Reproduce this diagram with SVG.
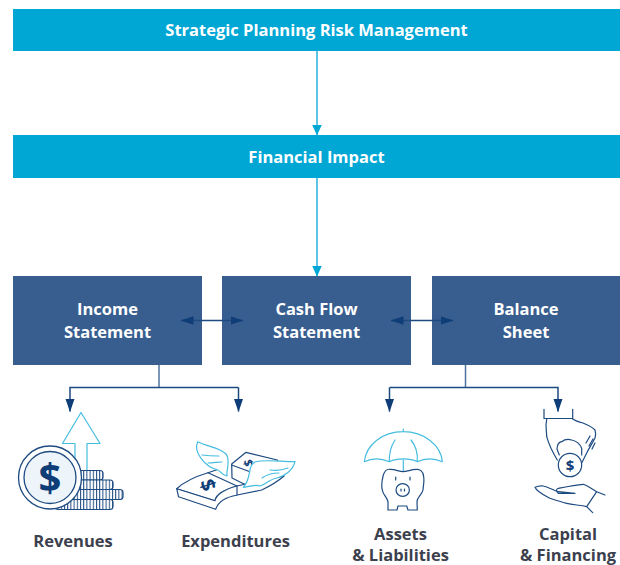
<svg xmlns="http://www.w3.org/2000/svg" width="620" height="565" viewBox="0 0 620 565">
<style>
text{font-family:"Open Sans","Liberation Sans",sans-serif;font-weight:700;text-anchor:middle}
.t{fill:#fff;font-size:16.500px}
.l{fill:#3c3f4d;font-size:16.500px}
.cy{fill:#00a7d5}.nv{fill:#385e8f}
.c1{fill:none;stroke:#5cc4e4;stroke-width:2}
.c2{fill:none;stroke:#1d4a80;stroke-width:1.500}
.d{fill:none;stroke:#1d4a80;stroke-width:1.200;stroke-linejoin:round;stroke-linecap:round}
.b{fill:none;stroke:#45bde0;stroke-width:1.200;stroke-linejoin:round;stroke-linecap:round}
.w{fill:#fff}
</style>
<defs>
<marker id="ac" markerUnits="userSpaceOnUse" markerWidth="11" markerHeight="11" refX="10.500" refY="5" orient="auto"><path d="M0 0L11 5L0 10Z" fill="#00a7d5"/></marker>
<marker id="an" markerUnits="userSpaceOnUse" markerWidth="13" markerHeight="9" refX="12.500" refY="4.250" orient="auto-start-reverse"><path d="M0 0L13 4.250L0 8.500Z" fill="#0f3d78"/></marker>
<marker id="ad" markerUnits="userSpaceOnUse" markerWidth="13" markerHeight="10" refX="12.500" refY="4.500" orient="auto"><path d="M0 0L13 4.500L0 9Z" fill="#0f3d78"/></marker>
<pattern id="ribs" width="3.200" height="10" patternUnits="userSpaceOnUse"><rect width="3.200" height="10" fill="#fff"/><rect width="1" height="10" fill="#1d4a80"/></pattern>
</defs>
<g id="strategic"><rect class="cy" x="13" y="9" width="607" height="42"/><text class="t" x="316.500" y="36">Strategic Planning Risk Management</text></g>
<g id="impact"><rect class="cy" x="13" y="135" width="607" height="43"/><text class="t" x="316.500" y="163">Financial Impact</text></g>
<g id="income"><rect class="nv" x="13" y="276" width="189" height="89"/><text class="t" x="107.500" y="315">Income</text><text class="t" x="107.500" y="338">Statement</text></g>
<g id="cashflow"><rect class="nv" x="222" y="276" width="189" height="89"/><text class="t" x="316.500" y="315">Cash Flow</text><text class="t" x="316.500" y="338">Statement</text></g>
<g id="balance"><rect class="nv" x="432" y="276" width="188" height="89"/><text class="t" x="526" y="315">Balance</text><text class="t" x="526" y="338">Sheet</text></g>
<g id="connectors">
<path class="c1" d="M317 51V135" marker-end="url(#ac)"/>
<path class="c1" d="M317 178V276" marker-end="url(#ac)"/>
<path class="c2" d="M181 320.500H243" marker-start="url(#an)" marker-end="url(#an)"/>
<path class="c2" d="M391 320.500H453" marker-start="url(#an)" marker-end="url(#an)"/>
<path d="M159 365V387M465.500 365V387" fill="none" stroke="#4f739e" stroke-width="1.500"/>
<path class="c2" d="M238.500 387.500H70V411.500" marker-end="url(#ad)"/>
<path class="c2" d="M238.500 387.500V411.500" marker-end="url(#ad)"/>
<path class="c2" d="M389.500 387.500H558V411.500" marker-end="url(#ad)"/>
<path class="c2" d="M389.500 387.500V411.500" marker-end="url(#ad)"/>
</g>
<g id="revenues">
<path class="b" d="M81 412.500L100 443.500H87V472H75V443.500H62.500Z"/>
<g fill="url(#ribs)" stroke="#1d4a80" stroke-width="1.200">
<rect x="60" y="470.500" width="43" height="9.500" rx="3"/>
<rect x="60" y="480" width="53" height="9.500" rx="3"/>
<rect x="60" y="489.500" width="63" height="10" rx="3"/>
<rect x="55" y="499.500" width="58" height="10" rx="3"/>
</g>
<circle cx="50" cy="477.500" r="31.500" fill="#fff" stroke="#1d4a80" stroke-width="1.300"/>
<circle cx="50" cy="477.500" r="26" fill="#edf5fa" stroke="#1d4a80" stroke-width="1.300"/>
<text x="50" y="492" style="font-size:40px;fill:#0f3d78">$</text>
<text class="l" x="73" y="547">Revenues</text>
</g>
<g id="expenditures">
<path class="w d" d="M231.700 464L246 452.300L277.300 460L284 476L250 487L232 478Z"/>
<path class="d" d="M231.700 465L250 471.700"/>
<text transform="translate(248 463) rotate(75)" y="4" style="font-size:12px;fill:#0f3d78">$</text>
<path class="w d" d="M176.700 488.700C186 480 197 476 208 472.700L237 486C224 490 216 494 215 500.700Z"/>
<path class="w d" d="M176.700 488.700L215 500.700C217 493 226 489 237 486L250 483L284 476C276 483 268 487 261.700 490L237.300 495C226 497 218 502 215.700 509.300L178.500 496.700Z"/>
<path class="d" d="M237 486V495"/>
<path class="d" d="M208 472.700L225 467"/>
<text transform="translate(208 485) rotate(72)" y="7" style="font-size:20px;fill:#0f3d78">$</text>
<path class="w b" d="M197.700 441.700C208 447 219 447 226 454C231 460 226 470 227 476C222 475 219 470 218 470C205 467 193 452 197.700 441.700Z"/>
<path class="b" d="M202 455C209 456 214 456 219 456M208 463C213 463 218 462 222 462"/>
<path class="w b" d="M295 461.700C283 462 264 459 255 462C247 466 252 478 243.300 487.300C250 487 255 484 260 486C266 484 270 479 277 478C285 476 293 470 295 461.700Z"/>
<path class="b" d="M270 470C277 471 283 470 288 468M262 478C266 475 272 473 279 473"/>
<text class="l" x="235.500" y="547">Expenditures</text>
</g>
<g id="assets">
<path class="b" d="M364.300 461.700C366 445 382 431.700 403.300 431.700C424 431.700 441 445 442.300 461.700C434 458 425 458 417.300 461.700C410 458 397 458 389.300 461.700C381 458 372 458 364.300 461.700ZM403.300 429V431.700M389.300 461.700C389 452 391 446 395 440M417.300 461.700C418 452 416 446 411 440M403.300 460V471"/>
<path class="w d" d="M383.300 475C385 470 388 469 390 469.300C395 469 399 471.700 403 471.700C407 471.700 412 469 416.700 469.300C420 469 423 472 423.300 475C425 481 423 486 423 490C422 495 417 497 417 501.700L417.300 510H408L406.700 506H398L397 510H388V501.700C387 497 383 495 382.300 490C381 485 382 480 383.300 475Z"/>
<ellipse cx="402.700" cy="490" rx="6.700" ry="6.300" class="d"/>
<path class="d" d="M395.700 477V480M410 477V480M401 489V491M404.500 489V491"/>
<text class="l" x="400.500" y="540">Assets</text>
<text class="l" x="400.500" y="561">&amp; Liabilities</text>
</g>
<g id="capital">
<path class="d" d="M544 409.300V418.500H572.700V409.300"/>
<path class="d" d="M546.700 419C545 427 546.700 431 546.700 436.700C549 445 553 453 557.300 460M572.700 419C577 422 580 422 583 423C588 425 592 427 595 430C596 433 596 435 595 438C592 444 589 448 586.700 453L581.700 463M559.300 455C558 451 556 449 557.300 446.700C558 443 560 442 561.700 441.700C565 439 568 439 571.700 440C576 441 580 444 581.700 448.300V455"/>
<path class="d" d="M586 443L590 436M589 446L593 439M592 449L595 443"/>
<circle cx="570" cy="465" r="11.700" class="w d"/>
<text x="570" y="470.500" style="font-size:15px;fill:#0f3d78">$</text>
<path class="d" d="M535 487.300C538 486 541 485.500 543.300 486C548 487 553 490 558.300 491.700L575 493.300H558.300C556 491 556 489 558.300 488.300C565 487 575 485 583.300 484.300C588 486 592 489 596.700 491.700L586.700 506.700C580 505 573 505 566.700 503.300C561 502 555 500 550 498.300C544 495 537 492 535 487.300ZM596.700 491.700L605 495M586.700 506.700L592.700 512.700"/>
<text class="l" x="568" y="540">Capital</text>
<text class="l" x="568" y="561">&amp; Financing</text>
</g>
</svg>
